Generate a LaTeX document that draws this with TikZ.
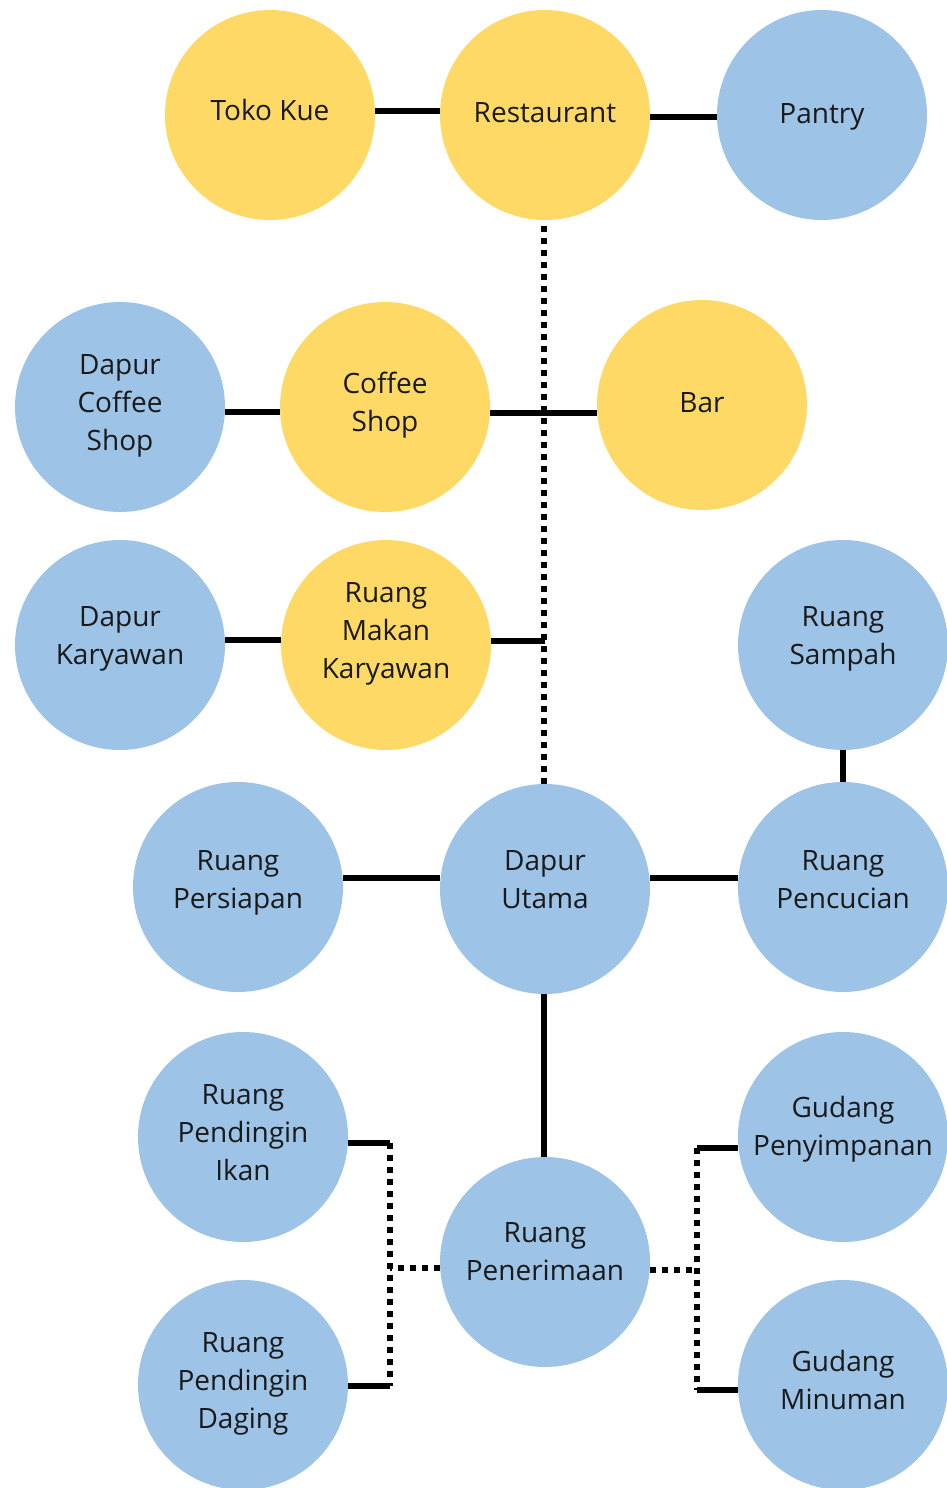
\documentclass[tikz,border=0pt]{standalone}
\usepackage{fontspec}
\setmainfont{Open Sans}
\usetikzlibrary{calc}
\definecolor{yd}{HTML}{FFD966}
\definecolor{bl}{HTML}{9DC3E6}
\definecolor{tx}{HTML}{1A1A1A}
\newcommand{\lnstr}{\strut}
\begin{document}
\begin{tikzpicture}[x=1pt,y=-1pt,
  room/.style={circle, minimum size=210pt, inner sep=0pt, draw=none},
  roomY/.style={room, fill=yd},
  roomB/.style={room, fill=bl},
  txt/.style={align=center, font=\fontsize{28}{38}\selectfont, text=tx, yshift=2.5pt, inner sep=0pt},
  solidline/.style={line width=5.5pt},
  dotline/.style={line width=6pt, dash pattern=on 6pt off 6pt}]
\useasboundingbox (0,0) rectangle (947,1488);

% rooms
\node[roomY, label={[txt]center:{Toko Kue\lnstr}}] (toko) at (270,115) {};
\node[roomY, label={[txt,yshift=-2pt]center:{Restaurant\lnstr}}] (rest) at (545,115) {};
\node[roomB, label={[txt,yshift=-3pt]center:{Pantry\lnstr}}] (pantry) at (822,115) {};
\node[roomB, label={[txt]center:{Dapur\lnstr\\Coffee\lnstr\\Shop\lnstr}}] (dcs) at (120,407) {};
\node[roomY, label={[txt]center:{Coffee\lnstr\\Shop\lnstr}}] (cs) at (385,407) {};
\node[roomY, label={[txt,yshift=-2pt]center:{Bar\lnstr}}] (bar) at (702,405) {};
\node[roomB, label={[txt,yshift=5pt]center:{Dapur\lnstr\\Karyawan\lnstr}}] (dk) at (120,645) {};
\node[roomY, label={[txt,yshift=10pt]center:{Ruang\lnstr\\Makan\lnstr\\Karyawan\lnstr}}] (rmk) at (386,645) {};
\node[roomB, label={[txt,yshift=5pt]center:{Ruang\lnstr\\Sampah\lnstr}}] (sampah) at (843,645) {};
\node[roomB, label={[txt,yshift=3pt]center:{Ruang\lnstr\\Persiapan\lnstr}}] (persiapan) at (238,887) {};
\node[roomB, label={[txt,yshift=5pt]center:{Dapur\lnstr\\Utama\lnstr}}] (utama) at (545,889) {};
\node[roomB, label={[txt,yshift=3pt]center:{Ruang\lnstr\\Pencucian\lnstr}}] (pencucian) at (843,887) {};
\node[roomB, label={[txt]center:{Ruang\lnstr\\Pendingin\lnstr\\Ikan\lnstr}}] (ikan) at (243,1137) {};
\node[roomB, label={[txt]center:{Ruang\lnstr\\Pendingin\lnstr\\Daging\lnstr}}] (daging) at (243,1385) {};
\node[roomB, label={[txt,yshift=6pt]center:{Ruang\lnstr\\Penerimaan\lnstr}}] (terima) at (545,1262) {};
\node[roomB, label={[txt,yshift=6pt]center:{Gudang\lnstr\\Penyimpanan\lnstr}}] (gsimpan) at (843,1137) {};
\node[roomB, label={[txt]center:{Gudang\lnstr\\Minuman\lnstr}}] (gminum) at (843,1385) {};

% connectors
\draw[solidline] ($(toko.east)+(0,-4)$) -- ($(rest.west)+(0,-4)$);
\draw[solidline] ($(rest.east)+(0,2)$) -- ($(pantry.west)+(0,2)$);
\draw[dotline] ($(rest.south)+(-1,6)$) -- ($(utama.north)+(-1,0)$);
\draw[solidline] ($(dcs.east)+(0,5)$) -- ($(cs.west)+(0,5)$);
\draw[solidline] ($(cs.east)+(0,6)$) -- ($(bar.west)+(0,8)$);
\draw[solidline] ($(dk.east)+(0,-5)$) -- ($(rmk.west)+(0,-5)$);
\coordinate (m1) at ($(rmk.east)+(0,-4)$);
\draw[solidline] (m1) -- (m1 -| utama.north);
\draw[solidline] (sampah.south) -- (pencucian.north);
\draw[solidline] ($(persiapan.east)+(0,-9)$) -- ($(utama.west)+(0,-11)$);
\draw[solidline] ($(utama.east)+(0,-11)$) -- ($(pencucian.west)+(0,-9)$);
\draw[solidline] ($(utama.south)+(-1,0)$) -- ($(terima.north)+(-1,0)$);

% left bracket
\coordinate (lt) at ($(ikan.east)+(42,6)$);
\coordinate (lb) at ($(daging.east)+(42,1)$);
\coordinate (lm) at ($(terima.west)+(0,6)$);
\draw[solidline] ($(ikan.east)+(0,6)$) -- (lt);
\draw[solidline] ($(daging.east)+(0,1)$) -- (lb);
\draw[dotline] (lt) -- (lb);
\draw[dotline] (lm) -- (lm -| lt);

% right bracket
\coordinate (rt) at ($(gsimpan.west)+(-41,11)$);
\coordinate (rb) at ($(gminum.west)+(-41,5)$);
\coordinate (rm) at ($(terima.east)+(0,8)$);
\draw[solidline] ($(gsimpan.west)+(0,11)$) -- (rt);
\draw[solidline] ($(gminum.west)+(0,5)$) -- (rb);
\draw[dotline] (rt) -- (rb);
\draw[dotline] (rm) -- (rm -| rt);
\end{tikzpicture}
\end{document}
